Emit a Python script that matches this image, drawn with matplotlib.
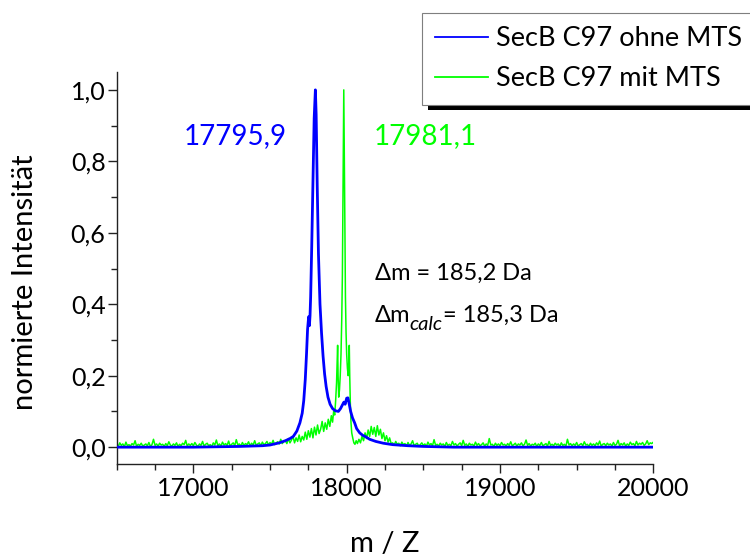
import numpy as np
import matplotlib
matplotlib.use("Agg")
import matplotlib.pyplot as plt
from matplotlib.ticker import MultipleLocator, FuncFormatter
from matplotlib.patches import Rectangle

plt.rcParams['font.family'] = ['Lato', 'DejaVu Sans']

# --- SecB C97 ohne MTS (smooth deconvoluted spectrum) ---
blue_mz = [16500, 17000, 17300, 17450, 17500, 17560, 17600, 17630, 17652, 17675,
           17695, 17710, 17720, 17730, 17738, 17745, 17752, 17757, 17761, 17765,
           17772, 17780, 17788, 17795.9, 17801, 17808, 17816, 17826, 17836, 17846,
           17856, 17866, 17878, 17892, 17908, 17925, 17946, 17960, 17972, 17982,
           17990, 18000, 18008, 18016, 18026, 18038, 18052, 18065, 18085, 18105,
           18120, 18150, 18190, 18239, 18300, 18400, 18500, 18700, 20000]
blue_int = [0.000, 0.000, 0.002, 0.004, 0.006, 0.012, 0.018, 0.024, 0.030, 0.045,
            0.068, 0.095, 0.130, 0.190, 0.260, 0.330, 0.365, 0.340, 0.368, 0.420,
            0.560, 0.740, 0.920, 1.000, 0.930, 0.730, 0.540, 0.400, 0.320, 0.255,
            0.205, 0.170, 0.140, 0.120, 0.108, 0.102, 0.100, 0.108, 0.118, 0.126,
            0.120, 0.137, 0.138, 0.122, 0.100, 0.082, 0.068, 0.052, 0.040, 0.033,
            0.030, 0.022, 0.016, 0.011, 0.007, 0.004, 0.002, 0.000, 0.000]

# --- SecB C97 mit MTS (raw, noisy spectrum) ---
# baseline 16500 ... 17590, every 10 Da
green_noise_left = [
    0.008, 0.002, 0.012, 0.005, 0.009, 0.001, 0.014, 0.004, 0.007, 0.003,
    0.010, 0.006, 0.018, 0.002, 0.008, 0.005, 0.011, 0.003, 0.006, 0.009,
    0.004, 0.013, 0.002, 0.007, 0.022, 0.005, 0.009, 0.003, 0.011, 0.006,
    0.008, 0.002, 0.010, 0.004, 0.015, 0.006, 0.003, 0.009, 0.005, 0.012,
    0.002, 0.008, 0.004, 0.011, 0.007, 0.019, 0.003, 0.009, 0.005, 0.010,
    0.004, 0.013, 0.006, 0.002, 0.009, 0.005, 0.016, 0.003, 0.008, 0.011,
    0.004, 0.007, 0.002, 0.012, 0.006, 0.020, 0.004, 0.009, 0.003, 0.014,
    0.006, 0.010, 0.005, 0.017, 0.003, 0.008, 0.012, 0.004, 0.021, 0.006,
    0.009, 0.003, 0.013, 0.005, 0.010, 0.007, 0.015, 0.004, 0.011, 0.006,
    0.018, 0.005, 0.009, 0.012, 0.004, 0.014, 0.007, 0.010, 0.016, 0.006,
    0.013, 0.008, 0.019, 0.007, 0.012, 0.015, 0.009, 0.022, 0.010, 0.016]
green_core_mz = [17600, 17610, 17620, 17630, 17640, 17650, 17660, 17670, 17680, 17690,
                 17700, 17710, 17720, 17730, 17740, 17750, 17760, 17770, 17780, 17790,
                 17800, 17810, 17820, 17830, 17840, 17850, 17860, 17870, 17880, 17890,
                 17900, 17908, 17915, 17922, 17928, 17934, 17938, 17941, 17944, 17948,
                 17953, 17958, 17963, 17968, 17972, 17976, 17979, 17981.1, 17984, 17988,
                 17992, 17996, 18000, 18005, 18010, 18014, 18017, 18020, 18024, 18028,
                 18033, 18040, 18047, 18054, 18062, 18070, 18080, 18090, 18100, 18110,
                 18120, 18130, 18140, 18150, 18160, 18170, 18180, 18190, 18200, 18210,
                 18220, 18230, 18240, 18250, 18260, 18270, 18280, 18290]
green_core_int = [0.018, 0.010, 0.024, 0.012, 0.020, 0.030, 0.012, 0.026, 0.016, 0.034,
                  0.015, 0.030, 0.020, 0.042, 0.022, 0.046, 0.028, 0.052, 0.026, 0.056,
                  0.034, 0.062, 0.038, 0.050, 0.072, 0.044, 0.068, 0.050, 0.078, 0.058,
                  0.088, 0.070, 0.100, 0.090, 0.130, 0.180, 0.240, 0.285, 0.200, 0.140,
                  0.160, 0.200, 0.260, 0.360, 0.480, 0.720, 0.900, 1.000, 0.860, 0.640,
                  0.420, 0.320, 0.260, 0.220, 0.200, 0.240, 0.285, 0.200, 0.120, 0.070,
                  0.040, 0.025, 0.012, 0.008, 0.018, 0.010, 0.022, 0.012, 0.030, 0.018,
                  0.040, 0.024, 0.048, 0.030, 0.058, 0.036, 0.055, 0.030, 0.060, 0.034,
                  0.050, 0.024, 0.040, 0.018, 0.032, 0.014, 0.026, 0.010]
# baseline 18300 ... 20000, every 10 Da
green_noise_right = [
    0.012, 0.006, 0.016, 0.008, 0.011, 0.004, 0.014, 0.007, 0.010, 0.003,
    0.013, 0.005, 0.009, 0.018, 0.004, 0.008, 0.011, 0.003, 0.007, 0.012,
    0.005, 0.009, 0.002, 0.014, 0.006, 0.010, 0.004, 0.021, 0.005, 0.008,
    0.003, 0.011, 0.006, 0.009, 0.002, 0.013, 0.005, 0.008, 0.004, 0.016,
    0.006, 0.010, 0.003, 0.008, 0.012, 0.004, 0.019, 0.005, 0.009, 0.002,
    0.011, 0.006, 0.008, 0.003, 0.014, 0.005, 0.010, 0.004, 0.007, 0.012,
    0.003, 0.009, 0.005, 0.024, 0.006, 0.008, 0.002, 0.011, 0.005, 0.009,
    0.004, 0.013, 0.006, 0.008, 0.003, 0.010, 0.005, 0.015, 0.004, 0.007,
    0.011, 0.003, 0.009, 0.006, 0.012, 0.004, 0.008, 0.020, 0.005, 0.010,
    0.003, 0.008, 0.006, 0.011, 0.002, 0.009, 0.005, 0.013, 0.004, 0.007,
    0.010, 0.003, 0.016, 0.005, 0.008, 0.004, 0.011, 0.006, 0.009, 0.002,
    0.012, 0.005, 0.008, 0.003, 0.022, 0.006, 0.010, 0.004, 0.009, 0.005,
    0.013, 0.003, 0.007, 0.010, 0.004, 0.015, 0.006, 0.008, 0.002, 0.011,
    0.005, 0.009, 0.004, 0.012, 0.006, 0.017, 0.003, 0.008, 0.010, 0.004,
    0.011, 0.006, 0.009, 0.003, 0.013, 0.005, 0.008, 0.019, 0.004, 0.010,
    0.006, 0.012, 0.003, 0.009, 0.005, 0.014, 0.007, 0.010, 0.004, 0.016,
    0.006, 0.011, 0.008, 0.013, 0.005, 0.009, 0.018, 0.007, 0.012, 0.010,
    0.014]

series_labels = ["SecB C97 ohne MTS", "SecB C97 mit MTS"]
peak_labels = ["17795,9", "17981,1"]
peak_label_pos = [(17272, 0.87), (18511, 0.87)]
delta_text = "Δm = 185,2 Da"
delta_calc_value = "= 185,3 Da"

x_label = "m / Z"
y_label = "normierte Intensität"

BLUE = "#0000FF"
GREEN = "#00FF00"

green_mz = np.concatenate([
    np.linspace(16500, 17590, len(green_noise_left)),
    np.array(green_core_mz),
    np.linspace(18300, 20000, len(green_noise_right)),
])
green_int = np.concatenate([green_noise_left, green_core_int, green_noise_right])

fig = plt.figure(figsize=(7.5, 5.57), dpi=100)
W, H = 750.0, 557.0
ax = fig.add_axes([116.7 / W, 1 - 464.3 / H, (653.3 - 116.7) / W, (464.3 - 72.0) / H])

l_green, = ax.plot(green_mz, green_int, color=GREEN, lw=1.1, zorder=2)
l_blue, = ax.plot(blue_mz, blue_int, color=BLUE, lw=2.0, zorder=3)

ax.set_xlim(16500, 20000)
ax.set_ylim(-0.048, 1.05)

for s in ("top", "right"):
    ax.spines[s].set_visible(False)
for s in ("left", "bottom"):
    ax.spines[s].set_color("#222222")
    ax.spines[s].set_linewidth(1.0)

ax.xaxis.set_major_locator(MultipleLocator(1000))
ax.xaxis.set_minor_locator(MultipleLocator(250))
ax.yaxis.set_major_locator(MultipleLocator(0.2))
ax.yaxis.set_minor_locator(MultipleLocator(0.1))
ax.xaxis.set_major_formatter(FuncFormatter(lambda v, _: f"{int(round(v))}"))
ax.yaxis.set_major_formatter(FuncFormatter(lambda v, _: f"{v:.1f}".replace(".", ",")))
ax.tick_params(which="major", direction="out", length=6.5, width=1.0, color="#222222",
               labelsize=18, pad=2.5)
ax.tick_params(which="minor", direction="out", length=4.0, width=1.0, color="#222222")
ax.tick_params(axis="y", pad=1.5)

ax.set_xlabel(x_label, fontsize=21)
ax.set_ylabel(y_label, fontsize=21)
ax.xaxis.set_label_coords(0.5, -0.17)
ax.yaxis.set_label_coords(-0.147, 0.465)

# peak annotations
for (px, py), txt, c in zip(peak_label_pos, peak_labels, [BLUE, GREEN]):
    ax.text(px, py, txt, color=c, fontsize=20, ha="center", va="center")

# mass difference annotations
ax.text(18185, 0.468, delta_text, fontsize=17, va="baseline")
t_dm = ax.text(18185, 0.350, "Δm", fontsize=17, va="baseline")
t_sub = ax.annotate("calc", xy=(1, 0.350), xycoords=(t_dm, "data"),
                    xytext=(-1.0, -6), textcoords="offset points",
                    fontsize=14.5, style="italic", va="baseline")
ax.annotate(delta_calc_value, xy=(1, 0.350), xycoords=(t_sub, "data"),
            xytext=(0.5, 0), textcoords="offset points", fontsize=17, va="baseline")

leg = fig.legend([l_blue, l_green], series_labels, loc="upper left",
                 bbox_to_anchor=(421.7 / W, 1 - 12.7 / H), borderaxespad=0,
                 fontsize=19.5, frameon=True, fancybox=False, framealpha=1,
                 edgecolor="#7f7f7f", handlelength=1.95, handletextpad=0.3,
                 borderpad=0.5, labelspacing=0.56)
leg.get_frame().set_linewidth(0.8)
for h in leg.legend_handles:
    h.set_linewidth(1.3)

# drop shadow behind the legend box
fig.canvas.draw()
bb = leg.get_window_extent()
shadow = Rectangle(((bb.x0 + 6) / W, (bb.y0 - 5) / H), bb.width / W, bb.height / H,
                   transform=fig.transFigure, facecolor="black", edgecolor="none",
                   zorder=leg.get_zorder() - 0.5)
fig.add_artist(shadow)

fig.savefig("out.png", dpi=100)
